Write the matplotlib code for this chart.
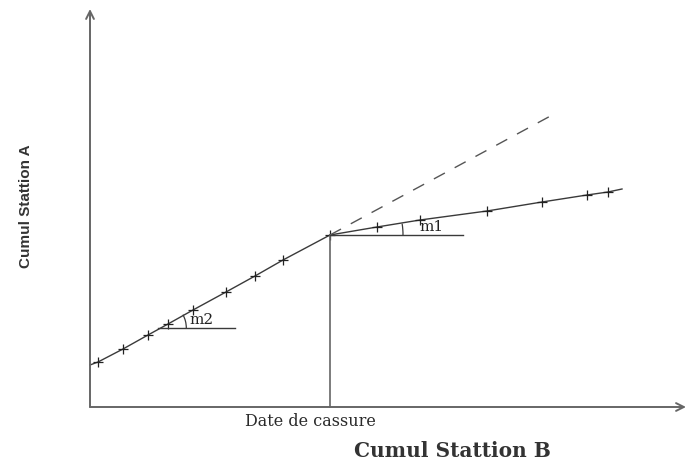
"""
Double-mass curve sketch: cumulative totals at station A against station B,
with a change of slope (m2 -> m1) at the break date.
"""

import numpy as np
import matplotlib.pyplot as plt
from matplotlib.patches import Arc

# cumulative station B (x) / station A (y), before and after the break
before_x = [8, 33, 58, 78, 103, 136, 165, 193, 240]
before_y = [45, 58, 72, 83, 97, 115, 131, 147, 172]
after_x = [240, 287, 330, 397, 452, 497, 518]
after_y = [172, 180, 187, 196, 205, 212, 215]

line_start = (0, 42)
line_end = (532, 218)
trend_end = (466, 294)   # extension of the first slope (dashed)

x_label = "Cumul Stattion B"
y_label = "Cumul Stattion A"
break_label = "Date de cassure"

LINE = "#3a3a3a"
AXIS = "#666666"
SERIF = "DejaVu Serif"


def main():
    fig = plt.figure(figsize=(6.86, 4.61), dpi=100)
    ax = fig.add_axes([0, 0, 1, 1])
    ax.set_xlim(-90, 596)
    ax.set_ylim(-54, 407)
    ax.axis("off")

    # axes with open arrow heads
    arrow = dict(arrowstyle="->", color=AXIS, lw=1.4, shrinkA=0, shrinkB=0,
                 mutation_scale=14)
    ax.annotate("", xy=(0, 398), xytext=(0, 0), arrowprops=arrow)
    ax.annotate("", xy=(596, 0), xytext=(0, 0), arrowprops=arrow)

    # broken curve
    ax.plot([line_start[0]] + before_x, [line_start[1]] + before_y,
            color=LINE, lw=1.0)
    ax.plot(after_x + [line_end[0]], after_y + [line_end[1]],
            color=LINE, lw=1.0)
    ax.plot(before_x, before_y, ls="none", marker="+", ms=6.5, mew=0.9,
            color="#222222")
    ax.plot(after_x[1:], after_y[1:], ls="none", marker="+", ms=6.5, mew=0.9,
            color="#222222")

    # dashed continuation of the first slope
    bx, by = before_x[-1], before_y[-1]
    ax.plot([bx, trend_end[0]], [by, trend_end[1]], color="#555555",
            lw=1.0, dashes=(9, 8))

    # vertical at the break date
    ax.plot([bx, bx], [0, by], color=AXIS, lw=1.2)

    # slope m2: horizontal reference + small arc
    s2 = (before_y[-1] - line_start[1]) / (before_x[-1] - line_start[0])
    h2_y = 79
    h2_x = (h2_y - line_start[1]) / s2
    ax.plot([h2_x, h2_x + 77], [h2_y, h2_y], color=LINE, lw=1.0)
    a2 = np.degrees(np.arctan(s2))
    ax.add_patch(Arc((h2_x, h2_y), 56, 56, theta1=0, theta2=a2,
                     color=LINE, lw=0.9))
    ax.text(h2_x + 31, h2_y + 1, "m2", family=SERIF, fontsize=11,
            va="bottom", ha="left", color="#222222")

    # slope m1
    s1 = (line_end[1] - by) / (line_end[0] - bx)
    ax.plot([bx, bx + 133], [by, by], color=LINE, lw=1.0)
    a1 = np.degrees(np.arctan(s1))
    ax.add_patch(Arc((bx, by), 146, 146, theta1=0, theta2=a1,
                     color=LINE, lw=0.9))
    ax.text(bx + 89, by + 1, "m1", family=SERIF, fontsize=11,
            va="bottom", ha="left", color="#222222")

    # labels
    ax.text(220, -14, break_label, family=SERIF, fontsize=11.5,
            ha="center", va="center", color="#2a2a2a")
    ax.text(362, -44, x_label, family=SERIF, fontsize=14.5, fontweight="bold",
            ha="center", va="center", color="#333333")
    ax.text(-64, 201, y_label, family="Liberation Sans", fontsize=11,
            fontweight="bold", rotation=90, ha="center", va="center",
            color="#333333")

    fig.savefig("out.png", dpi=100)


if __name__ == "__main__":
    main()
